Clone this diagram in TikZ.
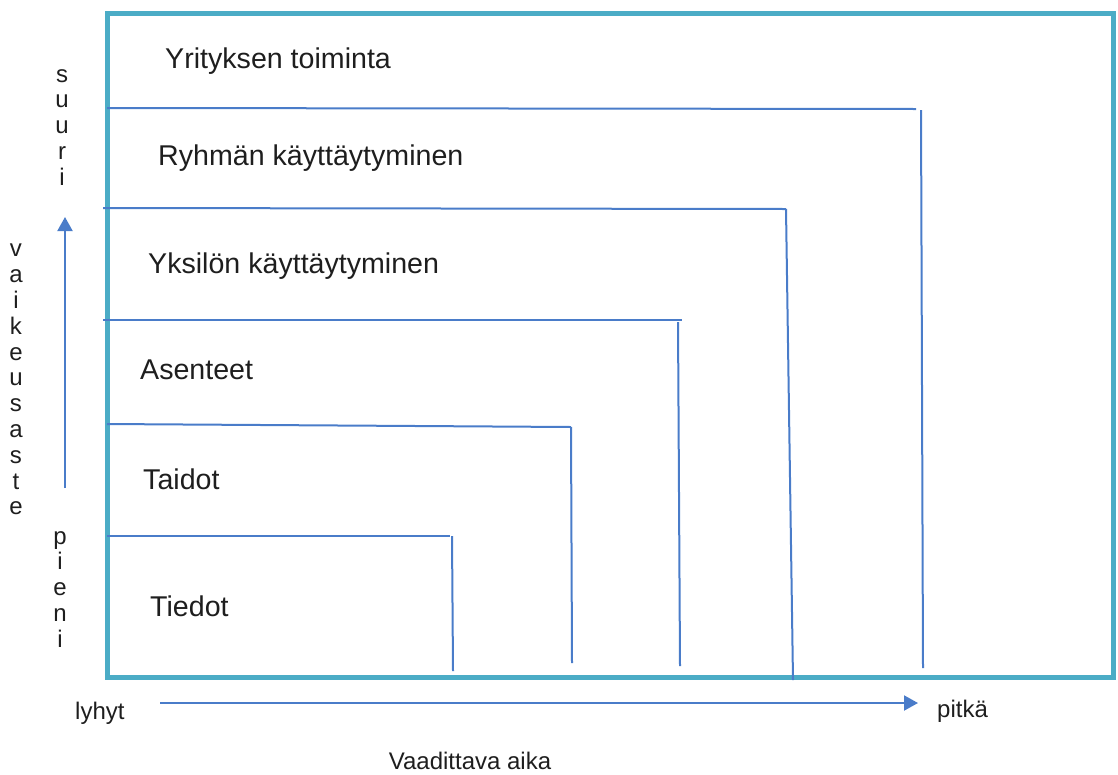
\documentclass[tikz,border=0pt]{standalone}
\usepackage{fontspec}
\setmainfont{Liberation Sans}
\usetikzlibrary{arrows.meta}

\definecolor{Frame}{HTML}{4BACC6}
\definecolor{Level}{HTML}{4A7CC9}
\definecolor{Txt}{HTML}{1E1E1E}

\begin{document}
\begin{tikzpicture}[x=1pt, y=-1pt,
  level/.style={line width=2, color=Level},
  big/.style={anchor=west, inner sep=0, text=Txt, font=\fontsize{28.6}{34}\selectfont},
  small/.style={inner sep=0, text=Txt, font=\fontsize{24}{25.8}\selectfont},
  letters/.style={small, anchor=north, align=center}]

\useasboundingbox (0,0) rectangle (1118,774) ;

%%%%%%%%%% Points pour travailler %%%%%%%%%%

 \coordinate (0) at (107,13) ;
 \coordinate (1) at (1113,677) ;

 \coordinate (2) at (107,108) ;
 \coordinate (3) at (916,109) ;
 \coordinate (4) at (921,110) ;
 \coordinate (5) at (923,668) ;

 \coordinate (6) at (103,208) ;
 \coordinate (7) at (786,209) ;
 \coordinate (8) at (786,209) ;
 \coordinate (9) at (793,680) ;

 \coordinate (10) at (103,320) ;
 \coordinate (11) at (682,320) ;
 \coordinate (12) at (678,322) ;
 \coordinate (13) at (680,666) ;

 \coordinate (14) at (107,424) ;
 \coordinate (15) at (571,427) ;
 \coordinate (16) at (571,427) ;
 \coordinate (17) at (572,663) ;

 \coordinate (18) at (107,536) ;
 \coordinate (19) at (450,536) ;
 \coordinate (20) at (452,536) ;
 \coordinate (21) at (453,671) ;

 \coordinate (22) at (65,488) ;
 \coordinate (23) at (65,217) ;
 \coordinate (24) at (160,703) ;
 \coordinate (25) at (918,703) ;

 % Frame
 \draw [line width=5, color=Frame] (0) rectangle (1) ;

 %%%%%%%%%%% Levels %%%%%%%%%%%
 \draw [level] (2) -- (3) ;
 \draw [level] (4) -- (5) ;
 \draw [level] (6) -- (7) ;
 \draw [level] (8) -- (9) ;
 \draw [level] (10) -- (11) ;
 \draw [level] (12) -- (13) ;
 \draw [level] (14) -- (15) ;
 \draw [level] (16) -- (17) ;
 \draw [level] (18) -- (19) ;
 \draw [level] (20) -- (21) ;

 %%%%%%%%%%% Labels %%%%%%%%%%%
 \node [big] (yritys) at (165,61) {Yrityksen toiminta} ;
 \node [big] (ryhma) at (158,158) {Ryhmän käyttäytyminen} ;
 \node [big] (yksilo) at (148,266) {Yksilön käyttäytyminen} ;
 \node [big] (asenteet) at (140,370) {Asenteet} ;
 \node [big] (taidot) at (143,479) {Taidot} ;
 \node [big] (tiedot) at (150,606) {Tiedot} ;

 %%%%%%%%%%% Axes %%%%%%%%%%%
 \draw [level, -{Triangle[width=15, length=14]}] (22) -- (23) ;
 \draw [level, -{Triangle[width=15, length=14]}] (24) -- (25) ;

 \node [letters] (suuri) at (62,69) {s\\u\\u\\r\\i} ;
 \node [letters] (vaikeus) at (16,244) {v\\a\\i\\k\\e\\u\\s\\a\\s\\t\\e} ;
 \node [letters] (pieni) at (60,531) {p\\i\\e\\n\\i} ;

 \node [small, anchor=west] (lyhyt) at (75,713) {lyhyt} ;
 \node [small, anchor=west] (pitka) at (937,711) {pitkä} ;
 \node [small] (aika) at (470,761) {Vaadittava aika} ;

\end{tikzpicture}
\end{document}
